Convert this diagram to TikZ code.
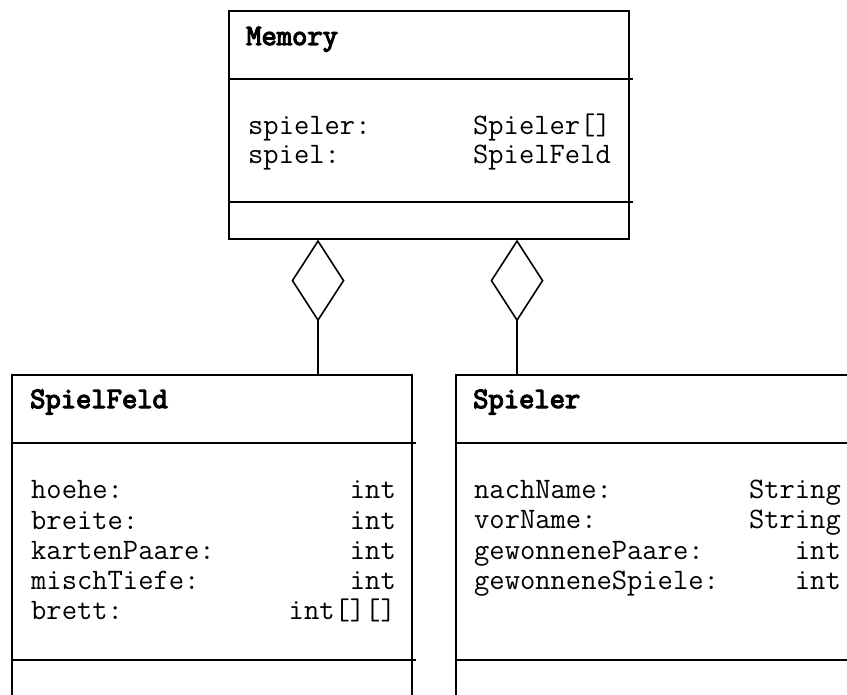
\documentclass[tikz,border=0pt]{standalone}
\usepackage{fontspec}
\newfontfamily\classfont[FakeBold=4]{Latin Modern Mono}
\usetikzlibrary{arrows.meta}
\begin{document}
\begin{tikzpicture}[x=1pt,y=-1pt,
  umlbox/.style={draw,line width=1.6pt,inner sep=0pt,anchor=north west},
  divider/.style={line width=1.6pt},
  txt/.style={font=\ttfamily\fontsize{29.7}{34}\selectfont,inner sep=0pt},
  cname/.style={font=\classfont\fontsize{29.7}{34}\selectfont,inner sep=0pt,anchor=base west},
  attr/.style={txt,anchor=base west},
  atype/.style={txt,anchor=base east},
  aggr/.style={line width=1.6pt,-{Diamond[open,length=82pt,width=53pt]}}]
\useasboundingbox (0,0) rectangle (847,695);
\clip (0,0) rectangle (847,695);

% class Memory
\node[umlbox,minimum width=400pt,minimum height=228pt] (mem) at (228,10) {};
\draw[divider] ([yshift=-69pt]mem.north west) -- ([xshift=3pt,yshift=-69pt]mem.north east);
\draw[divider] ([yshift=-192pt]mem.north west) -- ([xshift=3pt,yshift=-192pt]mem.north east);
\node[cname] (memName) at (246,45) {Memory};
\node[attr] (memA1) at (248,135) {spieler:};
\node[attr] (memA2) at (248,164) {spiel:};
\node[atype] (memT1) at (611,135) {Spieler[]};
\node[atype] (memT2) at (611,164) {SpielFeld};

% class SpielFeld
\node[umlbox,minimum width=400pt,minimum height=400pt] (sf) at (11,374) {};
\draw[divider] ([yshift=-69pt]sf.north west) -- ([xshift=3pt,yshift=-69pt]sf.north east);
\draw[divider] ([yshift=-286pt]sf.north west) -- ([xshift=3pt,yshift=-286pt]sf.north east);
\node[cname] (sfName) at (30,408) {SpielFeld};
\node[attr] (sfA1) at (31,498) {hoehe:};
\node[attr] (sfA2) at (31,529) {breite:};
\node[attr] (sfA3) at (31,559) {kartenPaare:};
\node[attr] (sfA4) at (31,589) {mischTiefe:};
\node[attr] (sfA5) at (31,619) {brett:};
\node[atype] (sfT1) at (396,498) {int};
\node[atype] (sfT2) at (396,529) {int};
\node[atype] (sfT3) at (396,559) {int};
\node[atype] (sfT4) at (396,589) {int};
\node[atype] (sfT5) at (396,619) {int[][]};

% class Spieler
\node[umlbox,minimum width=400pt,minimum height=400pt] (sp) at (455,374) {};
\draw[divider] ([yshift=-69pt]sp.north west) -- ([xshift=3pt,yshift=-69pt]sp.north east);
\draw[divider] ([yshift=-286pt]sp.north west) -- ([xshift=3pt,yshift=-286pt]sp.north east);
\node[cname] (spName) at (473,408) {Spieler};
\node[attr] (spA1) at (474,498) {nachName:};
\node[attr] (spA2) at (474,528) {vorName:};
\node[attr] (spA3) at (474,559) {gewonnenePaare:};
\node[attr] (spA4) at (474,589) {gewonneneSpiele:};
\node[atype] (spT1) at (841,498) {String};
\node[atype] (spT2) at (841,528) {String};
\node[atype] (spT3) at (841,559) {int};
\node[atype] (spT4) at (841,589) {int};

% aggregations
\draw[aggr] (318,0 |- sf.north) -- (318,0 |- mem.south);
\draw[aggr] (517,0 |- sp.north) -- (517,0 |- mem.south);
\end{tikzpicture}
\end{document}
